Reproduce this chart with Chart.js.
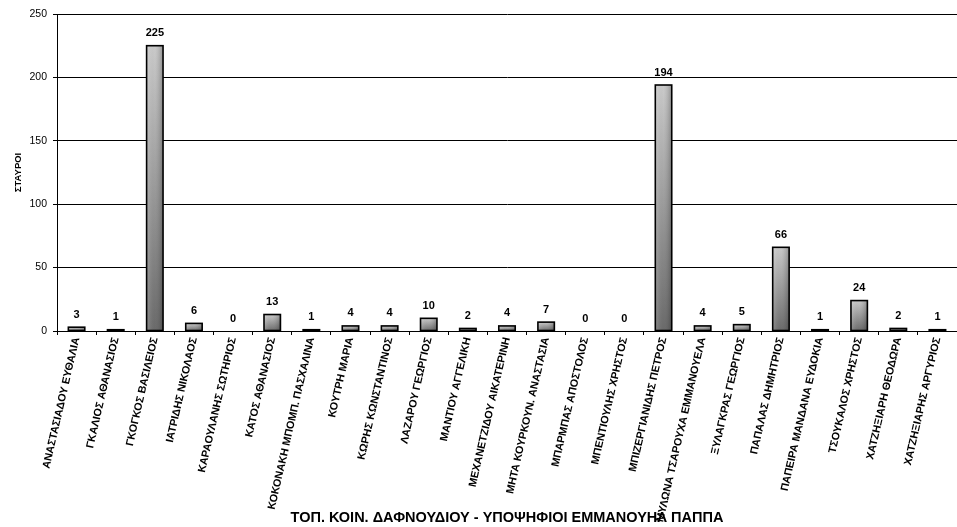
<!DOCTYPE html>
<html><head><meta charset="utf-8">
<script src="https://cdn.jsdelivr.net/npm/chart.js@4/dist/chart.umd.min.js"></script>
<style>html,body{margin:0;padding:0;background:#fff;overflow:hidden}</style>
</head><body>
<canvas id="c" width="957" height="527" style="display:block;width:957px;height:527px"></canvas>
<script>
const categories = [
  'ΑΝΑΣΤΑΣΙΑΔΟΥ ΕΥΘΑΛΙΑ','ΓΚΑΛΙΟΣ ΑΘΑΝΑΣΙΟΣ','ΓΚΟΓΚΟΣ ΒΑΣΙΛΕΙΟΣ','ΙΑΤΡΙΔΗΣ ΝΙΚΟΛΑΟΣ',
  'ΚΑΡΑΟΥΛΑΝΗΣ ΣΩΤΗΡΙΟΣ','ΚΑΤΟΣ ΑΘΑΝΑΣΙΟΣ','ΚΟΚΟΝΑΚΗ ΜΠΟΜΠ. ΠΑΣΧΑΛΙΝΑ','ΚΟΥΤΡΗ ΜΑΡΙΑ',
  'ΚΩΡΗΣ ΚΩΝΣΤΑΝΤΙΝΟΣ','ΛΑΖΑΡΟΥ ΓΕΩΡΓΙΟΣ','ΜΑΝΤΙΟΥ ΑΓΓΕΛΙΚΗ','ΜΕΧΑΝΕΤΖΙΔΟΥ ΑΙΚΑΤΕΡΙΝΗ',
  'ΜΗΤΑ ΚΟΥΡΚΟΥΝ. ΑΝΑΣΤΑΣΙΑ','ΜΠΑΡΜΠΑΣ ΑΠΟΣΤΟΛΟΣ','ΜΠΕΝΤΙΟΥΛΗΣ ΧΡΗΣΤΟΣ','ΜΠΙΖΕΡΓΙΑΝΙΔΗΣ ΠΕΤΡΟΣ',
  'ΜΥΛΩΝΑ ΤΣΑΡΟΥΧΑ ΕΜΜΑΝΟΥΕΛΑ','ΞΥΛΑΓΚΡΑΣ ΓΕΩΡΓΙΟΣ','ΠΑΠΑΛΑΣ ΔΗΜΗΤΡΙΟΣ','ΠΑΠΕΙΡΑ ΜΑΝΔΑΝΑ ΕΥΔΟΚΙΑ',
  'ΤΣΟΥΚΑΛΟΣ ΧΡΗΣΤΟΣ','ΧΑΤΖΗΞΙΑΡΗ ΘΕΟΔΩΡΑ','ΧΑΤΖΗΞΙΑΡΗΣ ΑΡΓΥΡΙΟΣ'
];
const votes = [3,1,225,6,0,13,1,4,4,10,2,4,7,0,0,194,4,5,66,1,24,2,1];
const yMin = 0, yMax = 250, yStep = 50;
const xTitle = 'ΤΟΠ. ΚΟΙΝ. ΔΑΦΝΟΥΔΙΟΥ - ΥΠΟΨΗΦΙΟΙ ΕΜΜΑΝΟΥΗΛ ΠΑΠΠΑ';
const yTitle = 'ΣΤΑΥΡΟΙ';

const FONT = "'Liberation Sans', Arial, sans-serif";
const CAT_PCT = 0.42;

function barFill(ctx) {
  const chart = ctx.chart;
  if (!chart.chartArea || ctx.type !== 'data') return '#999';
  const ys = chart.scales.y;
  const top = ys.getPixelForValue(votes[ctx.dataIndex]);
  const base = ys.getPixelForValue(0);
  const g = chart.ctx.createLinearGradient(0, top, 0, Math.max(base, top + 1));
  g.addColorStop(0, '#cacaca');
  g.addColorStop(1, '#6a6a6a');
  return g;
}

const barDecor = {
  id: 'barDecor',
  afterDatasetsDraw(chart) {
    const c = chart.ctx;
    const meta = chart.getDatasetMeta(0);
    c.save();
    meta.data.forEach((el, i) => {
      const {x, y, base, width} = el.getProps(['x', 'y', 'base', 'width'], true);
      const h = base - y;
      if (h < 0.5) return;
      const x0 = x - width / 2;
      const hg = c.createLinearGradient(x0, 0, x0 + width, 0);
      hg.addColorStop(0, 'rgba(255,255,255,0.22)');
      hg.addColorStop(0.5, 'rgba(128,128,128,0)');
      hg.addColorStop(1, 'rgba(0,0,0,0.28)');
      c.fillStyle = hg;
      c.fillRect(x0, y, width, h);
      c.strokeStyle = '#000';
      c.lineWidth = 1.6;
      c.strokeRect(x0, y, width, h);
    });
    c.font = "bold 11px " + FONT;
    c.fillStyle = '#000';
    c.textAlign = 'center';
    c.textBaseline = 'bottom';
    meta.data.forEach((el, i) => {
      c.fillText(String(votes[i]), el.x, el.y - 7);
    });
    c.restore();
  }
};

new Chart(document.getElementById('c'), {
  type: 'bar',
  data: {
    labels: categories,
    datasets: [{
      data: votes,
      backgroundColor: barFill,
      borderWidth: 0,
      barPercentage: 1,
      categoryPercentage: CAT_PCT
    }]
  },
  options: {
    responsive: false,
    animation: false,
    devicePixelRatio: 1,
    layout: { padding: { top: 14, right: 0, left: 0, bottom: 0 } },
    plugins: { legend: { display: false }, tooltip: { enabled: false } },
    scales: {
      x: {
        grid: { offset: true, drawOnChartArea: false, color: '#000', tickLength: 4 },
        border: { color: '#000', width: 1 },
        ticks: {
          autoSkip: false, minRotation: 77, maxRotation: 77,
          color: '#000', font: { family: FONT, size: 10.8, weight: 'bold' }, padding: 1
        },
        title: {
          display: true, text: xTitle, color: '#000',
          font: { family: FONT, size: 14.5, weight: 'bold' }, padding: { top: 0, bottom: 0 }
        },
        afterFit(scale) { scale.height = 196; }
      },
      y: {
        min: yMin, max: yMax,
        grid: { color: '#000', tickLength: 4, lineWidth: 1 },
        border: { color: '#000', width: 1 },
        ticks: { stepSize: yStep, color: '#000', font: { family: FONT, size: 10.5 }, padding: 6 },
        title: {
          display: true, text: yTitle, color: '#000',
          font: { family: FONT, size: 9.5, weight: 'bold' }, padding: { top: 13, bottom: 0 }
        },
        afterFit(scale) { scale.width = 57; }
      }
    }
  },
  plugins: [barDecor]
});
</script>
</body></html>
